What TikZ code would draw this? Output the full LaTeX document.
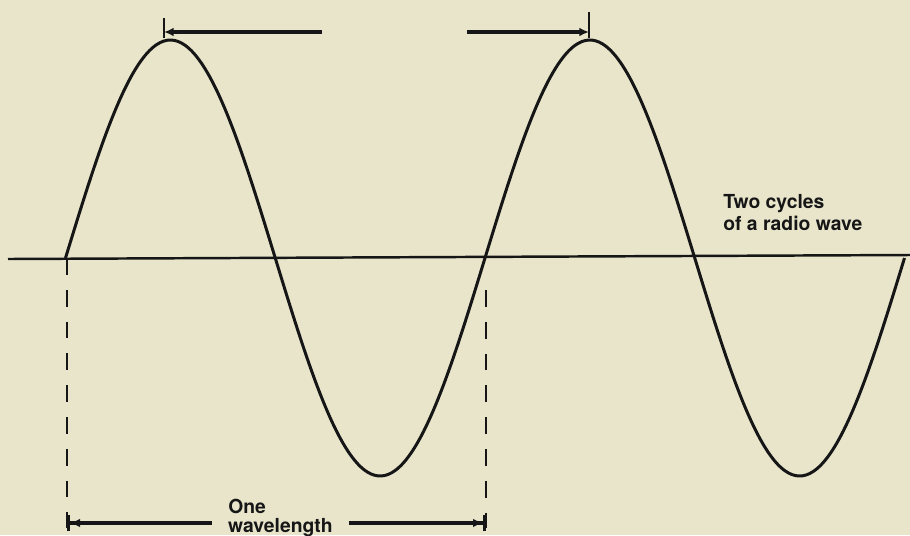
\documentclass[tikz,border=0pt]{standalone}
\usepackage{fontspec}
\setsansfont{TeX Gyre Heros}
\usepackage{tikz}
\usetikzlibrary{arrows.meta}
\definecolor{paper}{RGB}{232,229,203}
\definecolor{ink}{RGB}{22,22,22}

\begin{document}
\begin{tikzpicture}[x=0.02cm, y=-0.02cm,
                wv/.style={draw=ink, line width=1.7pt},
                ax/.style={draw=ink, line width=1.4pt},
                dsh/.style={draw=ink, line width=1.6pt, dash pattern=on 9.6pt off 8.5pt},
                tk/.style={draw=ink, line width=1.3pt},
                pt/.style={draw=ink, line width=1.9pt},
                lbl/.style={font=\sffamily\bfseries\fontsize{11}{12}\selectfont,
                           text=ink, inner sep=0pt}]
                \fill[paper] (0,0) rectangle (910,535);
                \useasboundingbox (0,0) rectangle (910,535);

                % axis and the two cycles
                \coordinate (axl) at (8,259);
                \coordinate (axr) at (910,255);
                \draw[ax] (axl) -- (axr);
                \draw[wv] plot[domain=0:839, samples=240, smooth]
                      ({65.5+\x}, {258-218*sin(\x/419.5*360)});

                % marks at the peaks
                \coordinate (pk1) at (164,32);
                \coordinate (pk2) at (589,32);
                \coordinate (s1) at (322,32);
                \coordinate (s2) at (467,32);
                \draw[tk] (pk1) ++(0,-14) -- ++(0,20);
                \draw[tk] (pk2) ++(0,-20) -- ++(0,26);
                \draw[pt, -{Latex[length=5.5pt, width=5pt]}] (s1) -- (pk1);
                \draw[pt, -{Latex[length=5.5pt, width=5pt]}] (s2) -- (pk2);

                % one wavelength
                \coordinate (z1) at (67,258);  \coordinate (b1) at (67,528);
                \coordinate (z2) at (486,290); \coordinate (b2) at (486,528);
                \draw[dsh] (z1) -- (b1);
                \draw[dsh] (z2) -- (b2);

                \node[lbl, anchor=base west] (one) at (228,513) {One};
                \node[lbl, anchor=base west, inner xsep=9pt] (wl) at (212,532) {wavelength};
                \coordinate (d1) at (67,523);
                \coordinate (d2) at (486,523);
                \draw[pt, {Bar[width=9pt]Latex[length=5.5pt, width=5pt]}-] (d1) -- (d1 -| wl.west);
                \draw[pt, -{Latex[length=5.5pt, width=5pt]Bar[width=9pt]}] (d2 -| wl.east) -- (d2);

                \node[lbl, anchor=base west] (cyc1) at (723,208) {Two cycles};
                \node[lbl, anchor=base west] (cyc2) at (723,230) {of a radio wave};
\end{tikzpicture}
\end{document}
